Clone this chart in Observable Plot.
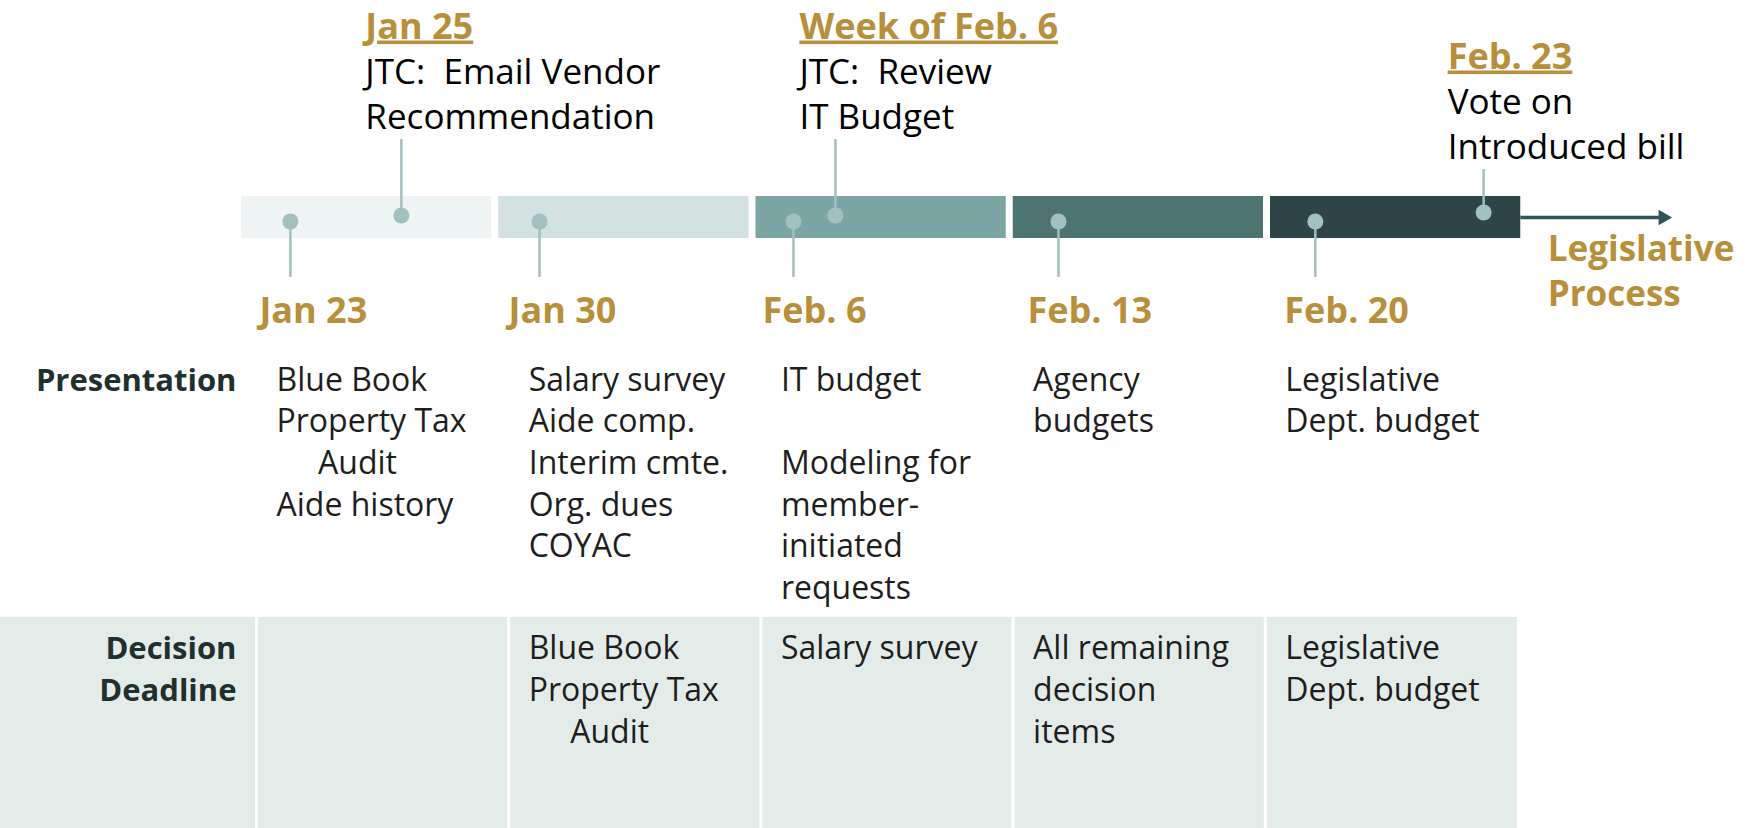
<!DOCTYPE html>
<html><head><meta charset="utf-8">
<script src="https://cdn.jsdelivr.net/npm/d3@7"></script>
<script src="https://cdn.jsdelivr.net/npm/@observablehq/plot@0.6"></script>
<style>
body{margin:0;background:#fff;}
svg text{white-space:pre;}
</style></head><body><div id="chart"></div>
<script>
// ---------- data ----------
const weekDates = ["Jan 23", "Jan 30", "Feb. 6", "Feb. 13", "Feb. 20"];
const weekDotDay = [1.33, 8.11, 15.02, 22.23, 29.22];           // day offset on the timeline
const calloutTitles = ["Jan 25", "Week of Feb. 6", "Feb. 23"];
const calloutTexts = [["JTC:  Email Vendor", "Recommendation"], ["JTC:  Review", "IT Budget"], ["Vote on", "Introduced bill"]];
const calloutDay = [4.35, 16.16, 33.8];
const processLabel = ["Legislative", "Process"];
const processEndDay = 38.9;
const rowLabels = [["Presentation"], ["Decision", "Deadline"]];
const presentationItems = [
  ["Blue Book", "Property Tax", "     Audit", "Aide history"],
  ["Salary survey", "Aide comp.", "Interim cmte.", "Org. dues", "COYAC"],
  ["IT budget", "", "Modeling for", "member-", "initiated", "requests"],
  ["Agency", "budgets"],
  ["Legislative", "Dept. budget"]
];
const decisionItems = [
  [],
  ["Blue Book", "Property Tax", "     Audit"],
  ["Salary survey"],
  ["All remaining", "decision", "items"],
  ["Legislative", "Dept. budget"]
];

// ---------- layout ----------
const W = 1748, H = 828;
const pxPerDay = 36.75, originPx = 241;
const toDay = p => (p - originPx) / pxPerDay;
const weekColors = ["#eef4f3", "#d3e1e0", "#7ba6a4", "#4e7471", "#2e4447"];
const gold = "#b88f3a", dotColor = "#a2c0be", arrowColor = "#2f5558", textColor = "#1e1e1e", labelColor = "#1f302e";
const barTop = 196, barBottom = 238, dotBelowY = 221, dotAboveY = 215, stemBelowEnd = 277, dateBaseline = 322;
const titleBase = 38, lineGap = 45, calloutShift = [0, 0, 30];
const colLeftPx = 256, colStepPx = 252.2, textPad = 20;
const presBase = 390, presGap = 41.7, decTop = 617, decBase = 658, decGap = 42;
const colStart = i => toDay(colLeftPx + i * colStepPx);
const colTextX = i => toDay(colLeftPx + i * colStepPx + textPad);

const bars = weekDates.map((d, i) => ({x1: i * 7, x2: i * 7 + 7, fill: weekColors[i]}));
const belowDots = weekDates.map((d, i) => ({x: weekDotDay[i], label: d}));
const callouts = calloutTitles.map((t, i) => {
  const top = titleBase + calloutShift[i];
  return {x: calloutDay[i], title: t, titleY: top,
    lines: calloutTexts[i].map((s, j) => ({x: calloutDay[i], y: top + (j + 1) * lineGap, text: s})),
    stemTop: top + 2 * lineGap + 11, dotY: dotAboveY - (calloutShift[i] ? 3 : 0)};
});
const calloutLines = callouts.flatMap(c => c.lines);
const tableText = [
  ...presentationItems.flatMap((col, i) => col.map((s, j) => ({col: i, y: presBase + j * presGap, text: s}))),
  ...decisionItems.flatMap((col, i) => col.map((s, j) => ({col: i, y: decBase + j * decGap, text: s})))
];
const rowLabelText = [
  ...rowLabels[0].map((s, j) => ({y: presBase + j * presGap, text: s})),
  ...rowLabels[1].map((s, j) => ({y: decBase + j * decGap, text: s}))
];
const arrowStart = 35 - 7 / pxPerDay;
const midBar = (barTop + barBottom) / 2;

const chart = Plot.plot({
  width: W, height: H, margin: 0,
  x: {domain: [toDay(0), toDay(W)], range: [0, W], axis: null},
  y: {domain: [0, H], range: [0, H], axis: null},
  style: {fontFamily: "'Open Sans', sans-serif", background: "#fff"},
  marks: [
    // decision row background and column separators
    Plot.rect([0], {x1: () => toDay(0), x2: () => colStart(5), y1: () => decTop, y2: () => H, fill: "#e4ecea"}),
    Plot.ruleX(d3.range(5).map(colStart), {y1: decTop, y2: H, stroke: "#fff", strokeWidth: 3}),
    // week bars
    Plot.rect(bars, {x1: "x1", x2: "x2", y1: () => barTop, y2: () => barBottom, fill: "fill", insetRight: 7}),
    // arrow
    Plot.ruleY([0], {x1: () => arrowStart, x2: () => processEndDay - 10 / pxPerDay, y: () => midBar, stroke: arrowColor, strokeWidth: 3.5}),
    Plot.dot([0], {x: () => processEndDay - 8 / pxPerDay, y: () => midBar, symbol: "triangle", rotate: 90, r: 5.8, fill: arrowColor}),
    // stems
    Plot.ruleX(belowDots, {x: "x", y1: dotBelowY, y2: stemBelowEnd, stroke: dotColor, strokeWidth: 2.5}),
    Plot.ruleX(callouts, {x: "x", y1: "stemTop", y2: "dotY", stroke: dotColor, strokeWidth: 2.5}),
    // dots
    Plot.dot(belowDots, {x: "x", y: () => dotBelowY, r: 8, fill: dotColor}),
    Plot.dot(callouts, {x: "x", y: "dotY", r: 8, fill: dotColor}),
    // date labels below
    Plot.text(belowDots, {x: "x", y: () => dateBaseline, text: "label", dx: -31, textAnchor: "start", lineAnchor: "bottom", fill: gold, fontSize: 36, fontWeight: "bold"}),
    // callout titles and texts
    Plot.text(callouts, {x: "x", y: "titleY", text: "title", dx: -36, textAnchor: "start", lineAnchor: "bottom", fill: gold, fontSize: 36, fontWeight: "bold"}),
    Plot.text(calloutLines, {x: "x", y: "y", text: "text", dx: -36, textAnchor: "start", lineAnchor: "bottom", fill: "#000", fontSize: 35}),
    // legislative process label
    Plot.text(processLabel, {x: () => 35, y: (d, i) => 260 + i * 45, text: d => d, dx: 20, textAnchor: "start", lineAnchor: "bottom", fill: gold, fontSize: 35, fontWeight: "bold"}),
    // table
    Plot.text(rowLabelText, {x: () => colStart(0), y: "y", text: "text", dx: -textPad, textAnchor: "end", lineAnchor: "bottom", fill: labelColor, fontSize: 31, fontWeight: "bold"}),
    Plot.text(tableText, {x: d => colTextX(d.col), y: "y", text: "text", textAnchor: "start", lineAnchor: "bottom", fill: textColor, fontSize: 32})
  ]
});
// underline the callout titles
d3.select(chart).selectAll("text")
  .filter(function () { return calloutTitles.includes(this.textContent); })
  .attr("text-decoration", "underline")
  .style("text-decoration", "underline");
document.getElementById("chart").appendChild(chart);
</script></body></html>
